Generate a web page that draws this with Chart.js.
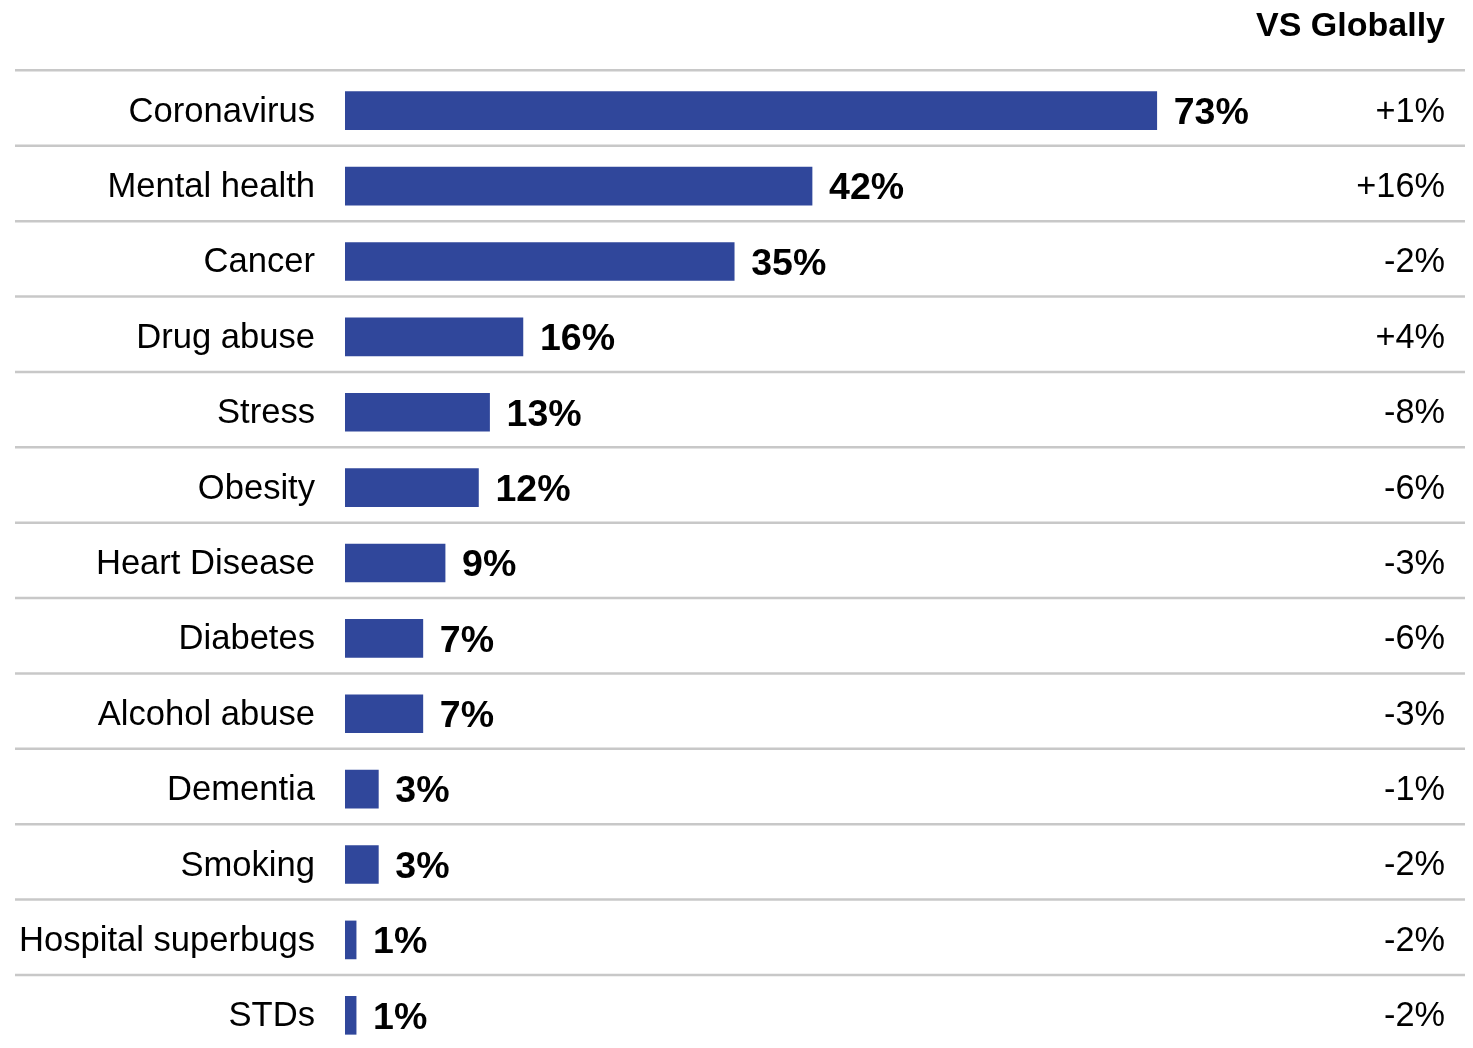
<!DOCTYPE html>
<html>
<head>
<meta charset="utf-8">
<script src="https://cdn.jsdelivr.net/npm/chart.js@4.4.1/dist/chart.umd.min.js"></script>
<style>
  html, body { margin: 0; padding: 0; background: #fff; overflow: hidden; height: 1048px; }
  #wrap { width: 1473px; height: 1060px; }
</style>
</head>
<body>
<div id="wrap"><canvas id="topicsChart" width="1473" height="1060"></canvas></div>
<script>
var categories = ['Coronavirus', 'Mental health', 'Cancer', 'Drug abuse', 'Stress', 'Obesity',
    'Heart Disease', 'Diabetes', 'Alcohol abuse', 'Dementia', 'Smoking', 'Hospital superbugs', 'STDs'];
var shares = [73, 42, 35, 16, 13, 12, 9, 7, 7, 3, 3, 1, 1];
var vsGlobally = ['+1%', '+16%', '-2%', '+4%', '-8%', '-6%', '-3%', '-6%', '-3%', '-1%', '-2%', '-2%', '-2%'];
var columnTitle = 'VS Globally';

var fontFamily = '"Liberation Sans", Arial, Helvetica, sans-serif';

// row separators, category names, value labels and the right-hand comparison column
var rowDecor = {
    id: 'rowDecor',
    beforeDatasetsDraw: function(chart) {
        var ctx = chart.ctx, y = chart.scales.y;
        var pitch = y.getPixelForValue(1) - y.getPixelForValue(0);
        ctx.save();
        ctx.strokeStyle = '#c8c8c8';
        ctx.lineWidth = 2.5;
        categories.forEach(function(c, i) {
            var py = y.getPixelForValue(i) - pitch * 0.535;
            ctx.beginPath();
            ctx.moveTo(15, py);
            ctx.lineTo(1465, py);
            ctx.stroke();
        });
        ctx.restore();
    },
    afterDatasetsDraw: function(chart) {
        var ctx = chart.ctx, x = chart.scales.x, y = chart.scales.y;
        ctx.save();
        ctx.fillStyle = '#000';
        ctx.textBaseline = 'middle';

        ctx.textAlign = 'right';
        ctx.font = '34.6px ' + fontFamily;
        categories.forEach(function(c, i) {
            ctx.fillText(c, chart.chartArea.left - 30, y.getPixelForValue(i) + 1.5);
        });

        ctx.textAlign = 'left';
        ctx.font = 'bold 37.5px ' + fontFamily;
        shares.forEach(function(v, i) {
            ctx.fillText(v + '%', x.getPixelForValue(v) + 17, y.getPixelForValue(i) + 3);
        });

        ctx.textAlign = 'right';
        ctx.font = '34.3px ' + fontFamily;
        vsGlobally.forEach(function(s, i) {
            ctx.fillText(s, 1445, y.getPixelForValue(i) + 1.5);
        });

        ctx.font = 'bold 34px ' + fontFamily;
        ctx.fillText(columnTitle, 1445, 27);
        ctx.restore();
    }
};

var ctx1 = document.getElementById('topicsChart').getContext('2d');
var myChart = new Chart(ctx1, {
    type: 'bar',
    data: {
        labels: categories,
        datasets: [{
            data: shares,
            backgroundColor: '#30479B',
            borderWidth: 0,
            barThickness: 38
        }]
    },
    options: {
        indexAxis: 'y',
        responsive: false,
        maintainAspectRatio: false,
        animation: false,
        layout: {
            padding: { top: 73, bottom: 7, left: 345, right: 16 }
        },
        plugins: {
            legend: { display: false },
            tooltip: { enabled: false }
        },
        scales: {
            x: {
                display: false,
                min: 0,
                max: 100
            },
            y: {
                display: false
            }
        }
    },
    plugins: [rowDecor]
});
</script>
</body>
</html>
